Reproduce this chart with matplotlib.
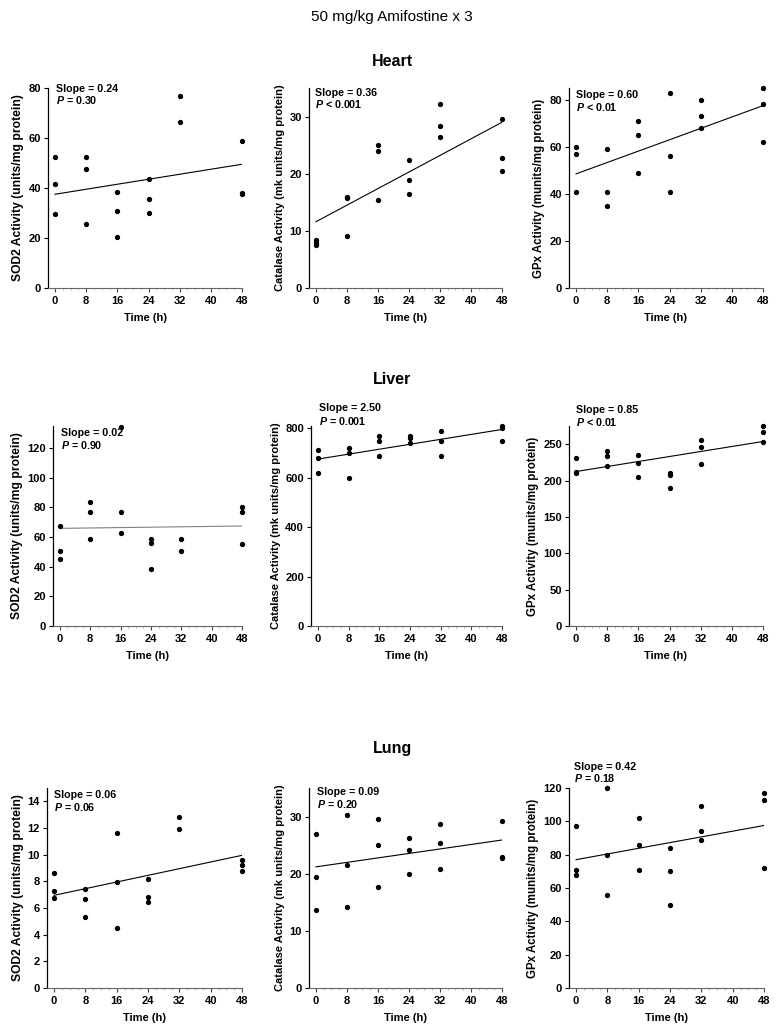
import matplotlib
matplotlib.use('Agg')
import matplotlib.pyplot as plt
from matplotlib.ticker import MultipleLocator

plt.rcParams['font.family'] = ['Liberation Sans', 'DejaVu Sans']
plt.rcParams['mathtext.fontset'] = 'custom'
plt.rcParams['mathtext.it'] = 'Liberation Sans:bold:italic'
plt.rcParams['mathtext.rm'] = 'Liberation Sans:bold'

W, H = 781, 1031

# ---------------- data ----------------
times = [0, 8, 16, 24, 32, 48]
xticks = [0, 8, 16, 24, 32, 40, 48]

heart_sod2 = [[52.5, 41.5, 29.5], [52.5, 47.5, 25.5], [38.5, 31, 20.5],
              [43.5, 35.5, 30], [77, 66.5], [59, 38, 37.5]]
heart_cat = [[8.4, 7.9, 7.5], [16, 15.8, 9.1], [25.1, 24, 15.4],
             [22.4, 18.9, 16.5], [32.2, 28.4, 26.5], [29.5, 22.8, 20.4]]
heart_gpx = [[60, 57, 41], [59, 41, 35], [71, 65, 49],
             [83, 56, 41], [80, 73, 68], [85, 78, 62]]

liver_sod2 = [[67.5, 50.3, 45.5], [83.7, 77.2, 59], [134, 77, 62.7],
              [59, 55.7, 38.5], [59, 50.3], [80.5, 77, 55.5]]
liver_cat = [[711, 680, 620], [720, 700, 600], [770, 750, 690],
             [770, 760, 740], [790, 750, 690], [811, 800, 750]]
liver_gpx = [[231, 212, 210], [241, 234, 220], [235, 224, 205],
             [211, 207, 190], [255.5, 246, 223], [275, 266.5, 253]]

lung_sod2 = [[8.6, 7.3, 6.75], [7.45, 6.7, 5.35], [11.6, 7.95, 4.5],
             [8.2, 6.8, 6.45], [12.8, 11.9], [9.6, 9.25, 8.8]]
lung_cat = [[27, 19.4, 13.6], [30.2, 21.6, 14.1], [29.6, 25, 17.6],
            [26.2, 24.1, 20], [28.7, 25.3, 20.9], [29.3, 23, 22.8]]
lung_gpx = [[97, 71, 68], [120, 80, 56], [102, 86, 71],
            [84, 70, 50], [109, 94, 89], [117, 113, 72]]

# fitted line values at t=0 and t=48
fit_heart = [(37.5, 49.5), (11.6, 29.0), (48.5, 77.5)]
fit_liver = [(65.9, 67.5), (676, 796), (212.4, 253.7)]
fit_lung = [(6.95, 9.95), (21.2, 25.9), (77, 97.5)]

slopes_heart = ['0.24', '0.36', '0.60']
pvals_heart = ['= 0.30', '< 0.001', '< 0.01']
slopes_liver = ['0.02', '2.50', '0.85']
pvals_liver = ['= 0.90', '= 0.001', '< 0.01']
slopes_lung = ['0.06', '0.09', '0.42']
pvals_lung = ['= 0.06', '= 0.20', '= 0.18']

ylabels = ['SOD2 Activity (units/mg protein)',
           'Catalase Activity (mk units/mg protein)',
           'GPx Activity (munits/mg protein)']
ylabel_sizes = [8.7, 8.0, 8.3]
row_titles = ['Heart', 'Liver', 'Lung']

ylims = [[80, 35, 85], [135, 810, 275], [15, 35, 120]]
ysteps = [[20, 10, 20], [20, 200, 50], [2, 10, 20]]

# ---------------- layout (pixels) ----------------
rows_px = [(88, 288), (426, 626), (788, 988)]
cols_px = [[(48, 242), (309, 502), (569, 763)],
           [(53, 242), (311, 502), (569, 763)],
           [(47, 242), (309, 502), (569, 764)]]
text_px = [[(56, 89, 100), (315, 93, 104), (576, 95, 107)],
           [(61, 433, 445), (319, 408, 421), (576, 410, 422)],
           [(54, 795, 807), (317, 792, 804), (574, 767, 778)]]
title_y = [62, 380, 748]

fig = plt.figure(figsize=(W / 100, H / 100), dpi=100)
fig.text(392 / W, 1 - 17 / H, '50 mg/kg Amifostine x 3', ha='center', va='center',
         fontsize=11)

data = [[heart_sod2, heart_cat, heart_gpx],
        [liver_sod2, liver_cat, liver_gpx],
        [lung_sod2, lung_cat, lung_gpx]]
fits = [fit_heart, fit_liver, fit_lung]
slopes = [slopes_heart, slopes_liver, slopes_lung]
pvals = [pvals_heart, pvals_liver, pvals_lung]

for r in range(3):
    top, bot = rows_px[r]
    fig.text(392 / W, 1 - title_y[r] / H, row_titles[r], ha='center', va='center',
             fontsize=11.5, fontweight='bold')
    for c in range(3):
        left, right = cols_px[r][c]
        ax = fig.add_axes([left / W, 1 - bot / H, (right - left) / W, (bot - top) / H])
        vals = data[r][c]
        xs, ys = [], []
        for t, group in zip(times, vals):
            xs += [t] * len(group)
            ys += group
        ax.plot(xs, ys, 'o', color='black', ms=2.8, clip_on=False, zorder=3)
        f0, f1 = fits[r][c]
        lcolor = '#808080' if (r == 1 and c == 0) else 'black'
        ax.plot([0, 48], [f0, f1], '-', color=lcolor, lw=0.8)
        ax.set_xlim(-1.8, 48)
        ax.set_ylim(0, ylims[r][c])
        ax.yaxis.set_major_locator(MultipleLocator(ysteps[r][c]))
        ax.set_xticks(xticks)
        ax.xaxis.set_minor_locator(MultipleLocator(2))
        for s in ['top', 'right']:
            ax.spines[s].set_visible(False)
        ax.spines['left'].set_linewidth(0.9)
        ax.spines['bottom'].set_color('#666666')
        ax.spines['bottom'].set_linewidth(0.8)
        ax.tick_params(axis='y', direction='out', length=3, width=0.8, pad=2,
                       labelsize=8)
        ax.tick_params(axis='x', which='major', direction='out', length=3, width=0.8,
                       color='#444444', pad=3, labelsize=8)
        ax.tick_params(axis='x', which='minor', direction='out', length=1.5,
                       width=0.6, color='#aaaaaa')
        for lab in ax.get_xticklabels() + ax.get_yticklabels():
            lab.set_fontweight('bold')
        ax.set_ylabel(ylabels[c], fontsize=ylabel_sizes[c], fontweight='bold',
                      labelpad=3)
        ax.set_xlabel('Time (h)', fontsize=8, fontweight='bold', labelpad=5)
        tx, ty1, ty2 = text_px[r][c]
        fig.text(tx / W, 1 - ty1 / H, 'Slope = ' + slopes[r][c], ha='left',
                 va='center', fontsize=7.7, fontweight='bold')
        fig.text(tx / W, 1 - ty2 / H, '$P$ ' + pvals[r][c], ha='left',
                 va='center', fontsize=7.7, fontweight='bold')

fig.savefig('out.png', dpi=100)
